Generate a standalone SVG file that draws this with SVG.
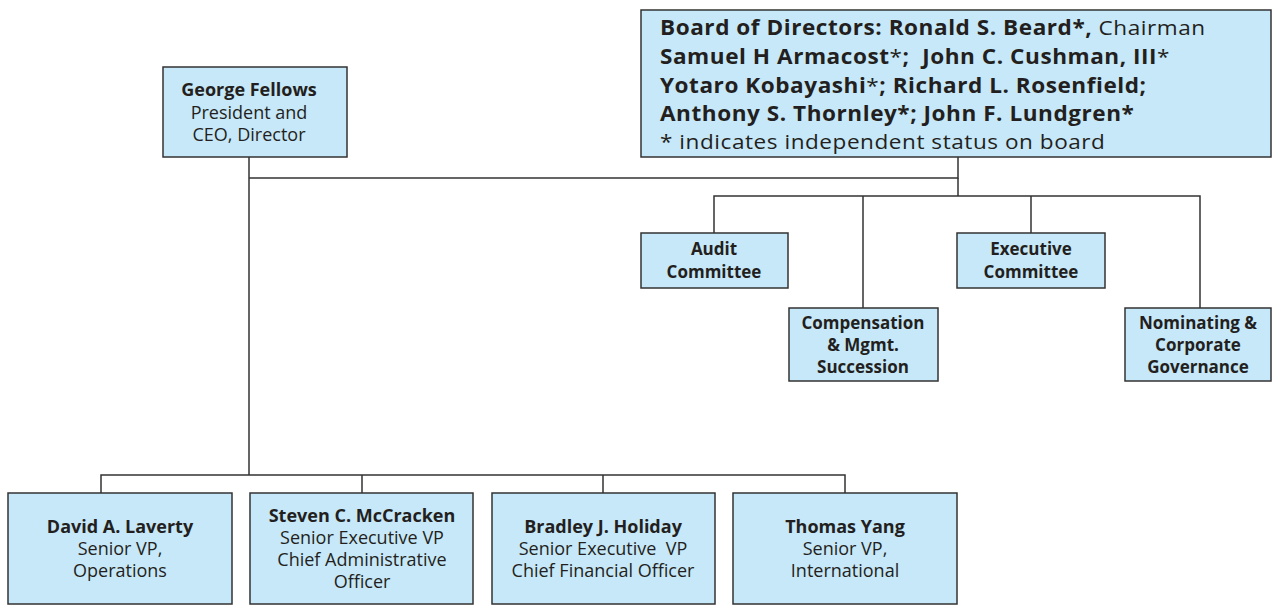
<svg xmlns="http://www.w3.org/2000/svg" width="1276" height="609" viewBox="0 0 1276 609">
<style>
.box{fill:#c7e8f8;stroke:#333;stroke-width:1.5}
.ln{fill:none;stroke:#333;stroke-width:1.5}
text{font-family:"Open Sans","Liberation Sans",sans-serif;fill:#231f20}
.c{text-anchor:middle;font-size:18px}
.k{text-anchor:middle;font-size:17px;font-weight:bold}
.b{font-weight:bold}
.n{font-weight:normal}
.bd{font-size:20.5px;letter-spacing:0.5px}
</style>
<rect width="1276" height="609" fill="#fff"/>
<g id="connectors">
<path class="ln" d="M958 157V178H249M249 157V475M101 493V475H845V493M362 475V493M603 475V493"/>
<path class="ln" d="M958 178V196M714 233V196H1200V308M863 196V308M1031 196V233"/>
</g>
<g id="board">
<rect class="box" x="641" y="10" width="630" height="147"/>
<text class="bd" transform="translate(660 0) scale(1.1 1)" xml:space="preserve"><tspan x="0" y="35.5"><tspan class="b">Board of Directors: Ronald S. Beard*,</tspan> Chairman</tspan><tspan class="b" x="0" y="64">Samuel H Armacost<tspan class="n">*</tspan>;  John C. Cushman, III<tspan class="n">*</tspan></tspan><tspan class="b" x="0" y="93">Yotaro Kobayashi<tspan class="n">*</tspan>; Richard L. Rosenfield;</tspan><tspan class="b" x="0" y="121.5">Anthony S. Thornley*; John F. Lundgren*</tspan><tspan x="0" y="149.5">* indicates independent status on board</tspan></text>
</g>
<g id="george">
<rect class="box" x="163" y="67" width="184" height="90"/>
<text class="c"><tspan class="b" x="249" y="96">George Fellows</tspan><tspan x="249" y="118.5">President and</tspan><tspan x="249" y="141">CEO, Director</tspan></text>
</g>
<g id="audit">
<rect class="box" x="641" y="233" width="147" height="55"/>
<text class="k"><tspan x="714" y="255">Audit</tspan><tspan x="714" y="277.5">Committee</tspan></text>
</g>
<g id="executive">
<rect class="box" x="957" y="233" width="148" height="55"/>
<text class="k"><tspan x="1031" y="255">Executive</tspan><tspan x="1031" y="277.5">Committee</tspan></text>
</g>
<g id="compensation">
<rect class="box" x="789" y="308" width="149" height="73"/>
<text class="k"><tspan x="863" y="328.5">Compensation</tspan><tspan x="863" y="350.5">&amp; Mgmt.</tspan><tspan x="863" y="372.5">Succession</tspan></text>
</g>
<g id="nominating">
<rect class="box" x="1125" y="308" width="146" height="73"/>
<text class="k"><tspan x="1198" y="328.5">Nominating &amp;</tspan><tspan x="1198" y="350.5">Corporate</tspan><tspan x="1198" y="372.5">Governance</tspan></text>
</g>
<g id="laverty">
<rect class="box" x="8" y="493" width="224" height="111"/>
<text class="c"><tspan class="b" x="120" y="533">David A. Laverty</tspan><tspan x="120" y="555">Senior VP,</tspan><tspan x="120" y="577">Operations</tspan></text>
</g>
<g id="mccracken">
<rect class="box" x="250" y="493" width="223" height="111"/>
<text class="c"><tspan class="b" x="362" y="522">Steven C. McCracken</tspan><tspan x="362" y="544">Senior Executive VP</tspan><tspan x="362" y="566">Chief Administrative</tspan><tspan x="362" y="588">Officer</tspan></text>
</g>
<g id="holiday">
<rect class="box" x="492" y="493" width="223" height="111"/>
<text class="c" xml:space="preserve"><tspan class="b" x="603" y="533">Bradley J. Holiday</tspan><tspan x="603" y="555">Senior Executive  VP</tspan><tspan x="603" y="577">Chief Financial Officer</tspan></text>
</g>
<g id="yang">
<rect class="box" x="733" y="493" width="224" height="111"/>
<text class="c"><tspan class="b" x="845" y="533">Thomas Yang</tspan><tspan x="845" y="555">Senior VP,</tspan><tspan x="845" y="577">International</tspan></text>
</g>
</svg>
